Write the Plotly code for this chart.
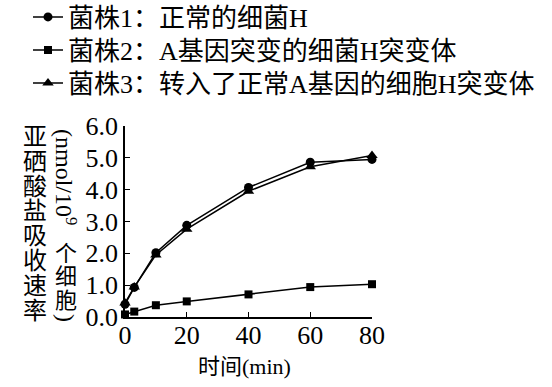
import plotly.graph_objects as go

time_min = [0, 3, 10, 20, 40, 60, 80]
strain1 = [0.40, 0.93, 2.02, 2.88, 4.07, 4.86, 4.95]
strain2 = [0.08, 0.17, 0.37, 0.49, 0.71, 0.94, 1.03]
strain3 = [0.44, 0.94, 1.95, 2.76, 3.95, 4.72, 5.07]
names = ["菌株1：正常的细菌H", "菌株2：A基因突变的细菌H突变体", "菌株3：转入了正常A基因的细胞H突变体"]
y_ticks = [0, 1, 2, 3, 4, 5, 6]
x_ticks = [0, 20, 40, 60, 80]

FONT = "Liberation Serif, Noto Sans CJK SC, serif"
W, H = 552, 387
ML, MR, MT, MB = 125, 180, 126, 70

pw = W - ML - MR
ph = H - MT - MB

def px_x(p):
    return (p - ML) / pw

def px_y(p):
    return (H - MB - p) / ph

fig = go.Figure()
series = [(strain1, "circle", 9), (strain2, "square", 8), (strain3, "triangle-up", 10)]
legend_ids = ["legend", "legend2", "legend3"]
for (vals, sym, sz), nm, lg in zip(series, names, legend_ids):
    fig.add_trace(go.Scatter(
        x=time_min, y=vals, name=nm, mode="lines+markers",
        line=dict(color="black", width=1.5),
        marker=dict(symbol=sym, size=sz, color="black"),
        cliponaxis=False, legend=lg,
    ))

annotations = []
title_chars = "亚硒酸盐吸收速率"
for i, ch in enumerate(title_chars):
    annotations.append(dict(
        text=ch, x=px_x(35), y=px_y(137 + i * 24.8), xref="paper", yref="paper",
        showarrow=False, font=dict(family=FONT, size=24, color="black"),
        xanchor="center", yanchor="middle",
    ))
annotations.append(dict(
    text="(nmol/10<sup>9</sup>", x=px_x(66), y=px_y(177), xref="paper", yref="paper",
    showarrow=False, textangle=90, font=dict(family=FONT, size=24, color="black"),
    xanchor="center", yanchor="middle",
))
for i, ch in enumerate("个细胞"):
    annotations.append(dict(
        text=ch, x=px_x(66), y=px_y(253 + i * 23.5), xref="paper", yref="paper",
        showarrow=False, font=dict(family=FONT, size=22, color="black"),
        xanchor="center", yanchor="middle",
    ))
annotations.append(dict(
    text=")", x=px_x(66), y=px_y(318), xref="paper", yref="paper",
    showarrow=False, textangle=90, font=dict(family=FONT, size=24, color="black"),
    xanchor="center", yanchor="middle",
))
annotations.append(dict(
    text="时间(min)", x=px_x(244), y=px_y(366), xref="paper", yref="paper",
    showarrow=False, font=dict(family=FONT, size=22, color="black"),
    xanchor="center", yanchor="middle",
))

legend_rows = [17, 50, 83]
legend_layout = {}
for lg, row in zip(legend_ids, legend_rows):
    legend_layout[lg] = dict(
        x=px_x(28), y=px_y(row), xanchor="left", yanchor="middle",
        font=dict(family=FONT, size=26, color="black"),
        bgcolor="rgba(0,0,0,0)", itemwidth=30,
    )

fig.update_layout(
    width=W, height=H,
    margin=dict(l=ML, r=MR, t=MT, b=MB, pad=0, autoexpand=False),
    paper_bgcolor="white", plot_bgcolor="white",
    font=dict(family=FONT, color="black", size=24),
    showlegend=True,
    annotations=annotations,
    xaxis=dict(
        range=[0, 80], tickvals=x_ticks, ticks="inside", ticklen=5,
        showline=True, linecolor="black", linewidth=1.5, showgrid=False,
        zeroline=False, tickfont=dict(family=FONT, size=26, color="black"),
        tickcolor="black", ticklabelstandoff=-6,
    ),
    yaxis=dict(
        range=[0, 6], tickvals=y_ticks, tickformat=".1f", ticks="inside", ticklen=5,
        showline=True, linecolor="black", linewidth=1.5, showgrid=False,
        zeroline=False, tickfont=dict(family=FONT, size=26, color="black"),
        tickcolor="black",
    ),
    **legend_layout,
)

fig.write_html("out.html")
